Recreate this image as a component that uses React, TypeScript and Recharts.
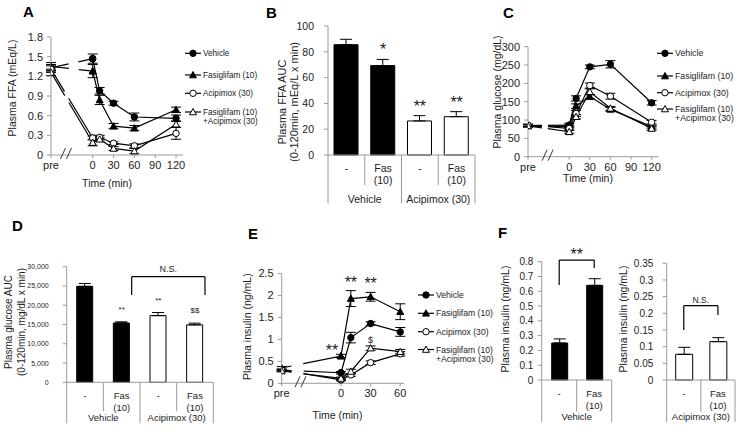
import React from "react";
import {
  LineChart,
  Line,
  BarChart,
  Bar,
  Cell,
  XAxis,
  YAxis,
  ErrorBar,
  Legend,
  Label,
  ReferenceLine,
  ReferenceDot,
} from "recharts";

const FONT = '"Liberation Sans", Arial, Helvetica, sans-serif';
const AXIS = "#9a9a9a";
const INK = "#1c1c1c";
const PRE = -60; // slot of the "pre" sample on the time axes

const SERIES = ["Vehicle", "Fasiglifam (10)", "Acipimox (30)", "Fasiglifam (10)\n+Acipimox (30)"];
const MARKERS = ["disc", "tri", "ring", "openTri"];

// A - plasma FFA (mEq/L)
const ffaTimes = [0, 10, 30, 60, 120];
const ffaPre = [1.33, 1.35, 1.31, 1.26];
const ffaPreErr = [0.05, 0.06, 0.05, 0.05];
const ffaVehicle = [1.47, 0.98, 0.79, 0.58, 0.56];
const ffaFas = [1.28, 0.84, 0.44, 0.41, 0.69];
const ffaAci = [0.26, 0.27, 0.18, 0.14, 0.33];
const ffaFasAci = [0.19, 0.24, 0.1, 0.06, 0.47];
const ffaVehicleErr = [0.07, 0.05, 0.03, 0.06, 0.05];
const ffaFasErr = [0.1, 0.07, 0.04, 0.04, 0.04];
const ffaAciErr = [0.03, 0.03, 0.02, 0.03, 0.09];
const ffaFasAciErr = [0.05, 0.03, 0.03, 0.04, 0.05];

// C - plasma glucose (mg/dL)
const glcTimes = [0, 10, 30, 60, 120];
const glcPre = [85, 84, 86, 84];
const glcPreErr = [3, 3, 3, 3];
const glcVehicle = [86, 159, 245, 252, 147];
const glcFas = [82, 138, 164, 129, 82];
const glcAci = [77, 118, 194, 165, 94];
const glcFasAci = [68, 109, 177, 132, 77];
const glcVehicleErr = [5, 7, 5, 10, 6];
const glcFasErr = [4, 6, 6, 5, 4];
const glcAciErr = [4, 8, 7, 8, 5];
const glcFasAciErr = [4, 6, 8, 5, 5];

// E - plasma insulin (ng/mL)
const insTimes = [0, 10, 30, 60];
const insPre = [0.3, 0.35, 0.3, 0.28];
const insPreErr = [0.02, 0.03, 0.02, 0.02];
const insVehicle = [0.24, 1.04, 1.36, 1.17];
const insFas = [0.62, 1.93, 1.97, 1.63];
const insAci = [0.08, 0.19, 0.47, 0.67];
const insFasAci = [0.11, 0.27, 0.8, 0.72];
const insVehicleErr = [0.03, 0.12, 0.04, 0.1];
const insFasErr = [0.04, 0.18, 0.1, 0.18];
const insAciErr = [0.02, 0.03, 0.04, 0.05];
const insFasAciErr = [0.03, 0.05, 0.05, 0.05];
const insMarks = [
  { s: 1, t: 0, text: "**" },
  { s: 1, t: 10, text: "**" },
  { s: 1, t: 30, text: "**" },
  { s: 3, t: 30, text: "$" },
];

// B, D - AUC bars
const aucKeys = ["veh", "vehFas", "aci", "aciFas"];
const aucTreat = ["-", "Fas (10)", "-", "Fas (10)"];
const aucGroups = ["Vehicle", "Vehicle", "Acipimox (30)", "Acipimox (30)"];
const ffaAuc = [85.5, 69.3, 26.4, 29.7];
const ffaAucErr = [4.2, 4.8, 4.1, 3.9];
const ffaAucSig = ["", "*", "**", "**"];
const glcAuc = [24900, 15400, 17300, 14900];
const glcAucErr = [750, 300, 800, 450];
const glcAucSig = ["", "**", "**", "$$"];

// F - plasma insulin bars
const insBarKeys = ["ctl", "fas"];
const insBarTreat = ["-", "Fas (10)"];
const insVehGroup = ["Vehicle", "Vehicle"];
const insAciGroup = ["Acipimox (30)", "Acipimox (30)"];
const insVehBars = [0.25, 0.64];
const insVehBarsErr = [0.028, 0.045];
const insAciBars = [0.077, 0.115];
const insAciBarsErr = [0.021, 0.012];

const fmtOne = (v: number) => (v === 0 ? "0" : v.toFixed(1));
const fmtPlain = (v: number) => String(v);
const fmtComma = (v: number) => v.toLocaleString("en-US");

const marker = (kind: string, cx: number, cy: number, key: string) => {
  if (cx == null || cy == null || Number.isNaN(cx) || Number.isNaN(cy)) return <g key={key} />;
  const open = kind === "ring" || kind === "openTri";
  const fill = open ? "#fff" : "#000";
  if (kind === "disc" || kind === "ring") {
    return <circle key={key} cx={cx} cy={cy} r={3.2} fill={fill} stroke="#000" strokeWidth={1} />;
  }
  const h = 3.5;
  return (
    <polygon
      key={key}
      points={`${cx},${cy - h} ${cx - h},${cy + h * 0.8} ${cx + h},${cy + h * 0.8}`}
      fill={fill}
      stroke="#000"
      strokeWidth={1}
    />
  );
};

const LegendBox = ({ rows, fs }: { rows: number[]; fs: number }) => (
  <svg width={84} height={90} style={{ display: "block", overflow: "visible" }}>
    {SERIES.map((name, i) => (
      <g key={name}>
        <line x1={1} x2={17} y1={rows[i]} y2={rows[i]} stroke="#000" strokeWidth={1.2} />
        {marker(MARKERS[i], 9, rows[i], `lg${i}`)}
        {name.split("\n").map((part, k) => (
          <text
            key={part}
            x={19}
            y={rows[i] + k * 9}
            dominantBaseline="central"
            fontSize={fs}
            fill={INK}
            fontFamily={FONT}
          >
            {part}
          </text>
        ))}
      </g>
    ))}
  </svg>
);

const breakMark = (sp: any) => (
  <g>
    <line x1={sp.cx - 6.5} y1={sp.cy + 4} x2={sp.cx - 1.5} y2={sp.cy - 7} stroke="#333" strokeWidth={1} />
    <line x1={sp.cx - 0.5} y1={sp.cy + 4} x2={sp.cx + 4.5} y2={sp.cy - 7} stroke="#333" strokeWidth={1} />
  </g>
);

type Box = { left: number; top: number; width: number; height: number };
type Margin = { top: number; right: number; bottom: number; left: number };

interface CourseProps {
  box: Box;
  margin: Margin;
  yWidth: number;
  xHeight: number;
  xDomain: number[];
  xTicks: number[];
  yDomain: number[];
  yTicks: number[];
  yFormat: (v: number) => string;
  tickFs: number;
  times: number[];
  pre: number[];
  preErr: number[];
  values: number[][];
  errs: number[][];
  dashes: number[][];
  breakAt: number;
  yTitle: string;
  yTitleAt: number[];
  timeAt: number[];
  legendAt: number[];
  legendRows: number[];
  legendFs: number;
  children?: React.ReactNode;
}

function TimeCourse(p: CourseProps) {
  const lead = p.values.map((vals, i) => [
    { t: PRE, v: p.pre[i], e: p.preErr[i] },
    { t: p.times[0], v: vals[0], e: 0 },
  ]);
  const main = p.values.map((vals, i) => p.times.map((t, j) => ({ t, v: vals[j], e: p.errs[i][j] })));
  return (
    <div style={{ position: "absolute", left: p.box.left, top: p.box.top }}>
      <LineChart width={p.box.width} height={p.box.height} margin={p.margin}>
        <XAxis
          type="number"
          dataKey="t"
          domain={p.xDomain}
          ticks={p.xTicks}
          interval={0}
          allowDataOverflow
          height={p.xHeight}
          stroke={AXIS}
          tickSize={3}
          tickMargin={3}
          tick={{ fontSize: p.tickFs, fill: INK }}
          tickFormatter={(v: number) => (v === PRE ? "pre" : String(v))}
        >
          <Label
            content={() => (
              <text x={p.timeAt[0]} y={p.timeAt[1]} textAnchor="middle" dominantBaseline="central" fontSize={10.5} fill={INK}>
                Time (min)
              </text>
            )}
          />
        </XAxis>
        <YAxis
          type="number"
          domain={p.yDomain}
          ticks={p.yTicks}
          interval={0}
          width={p.yWidth}
          stroke={AXIS}
          tickSize={4}
          tickMargin={4}
          tick={{ fontSize: p.tickFs, fill: INK }}
          tickFormatter={p.yFormat}
        >
          <Label
            content={() => (
              <text
                x={p.yTitleAt[0]}
                y={p.yTitleAt[1]}
                transform={`rotate(-90, ${p.yTitleAt[0]}, ${p.yTitleAt[1]})`}
                textAnchor="middle"
                dominantBaseline="central"
                fontSize={10.5}
                fill={INK}
              >
                {p.yTitle}
              </text>
            )}
          />
        </YAxis>
        <Legend
          layout="vertical"
          align="center"
          verticalAlign="middle"
          wrapperStyle={{ left: p.legendAt[0], top: p.legendAt[1], width: 70, height: 90 }}
          content={() => <LegendBox rows={p.legendRows} fs={p.legendFs} />}
        />
        <ReferenceDot x={p.breakAt} y={p.yDomain[0]} r={0} ifOverflow="visible" shape={breakMark} />
        {lead.map((rows, i) => (
          <Line
            key={`lead${i}`}
            data={rows}
            dataKey="v"
            type="linear"
            stroke="#000"
            strokeWidth={1.2}
            strokeDasharray={`${p.dashes[i][0]} ${p.dashes[i][1]} 400`}
            dot={(dp: any) => marker(MARKERS[i], dp.cx, dp.cy, `p${i}-${dp.index}`)}
            activeDot={false}
            legendType="none"
            isAnimationActive={false}
          >
            <ErrorBar dataKey="e" width={5} stroke="#000" strokeWidth={1} direction="y" isAnimationActive={false} />
          </Line>
        ))}
        {main.map((rows, i) => (
          <Line
            key={`main${i}`}
            data={rows}
            dataKey="v"
            type="linear"
            stroke="#000"
            strokeWidth={1.2}
            dot={(dp: any) => marker(MARKERS[i], dp.cx, dp.cy, `m${i}-${dp.index}`)}
            activeDot={false}
            legendType="none"
            isAnimationActive={false}
          >
            <ErrorBar dataKey="e" width={5} stroke="#000" strokeWidth={1} direction="y" isAnimationActive={false} />
          </Line>
        ))}
        {p.children}
      </LineChart>
    </div>
  );
}

interface TableCfg {
  slot: number;
  fs: number;
  rows: number[];
  groupY: number;
  shortLen: number;
  longLen: number;
}

interface Bracket {
  from: string;
  to: string;
  top: number;
  leftEnd: number;
  rightEnd: number;
  text: string;
  fs: number;
  gap: number;
  shift: number;
}

interface BarsProps {
  box: Box;
  margin: Margin;
  yWidth: number;
  xHeight: number;
  yDomain: number[];
  yTicks: number[];
  yFormat: (v: number) => string;
  tickFs: number;
  tickGap: number;
  keys: string[];
  treat: string[];
  groups: string[];
  values: number[];
  errs: number[];
  barSize: number;
  table: TableCfg;
  yTitle: string[];
  yTitleX: number[];
  yTitleY: number;
  titleFs: number;
  sig?: string[];
  sigFs?: number;
  sigDy?: number;
  bracket?: Bracket;
}

const makeTableTick = (p: BarsProps) => (tp: any) => {
  const { x, y, payload } = tp;
  const i = p.keys.indexOf(payload.value);
  if (i < 0) return <g />;
  const { slot, fs, rows, groupY, shortLen, longLen } = p.table;
  const g = p.groups;
  const isLast = i === g.length - 1 || g[i + 1] !== g[i];
  const isFirst = i === 0 || g[i - 1] !== g[i];
  let span = 1;
  while (i + span < g.length && g[i + span] === g[i]) span++;
  return (
    <g>
      {i === 0 && <line x1={x - slot / 2} x2={x - slot / 2} y1={y} y2={y + longLen} stroke={AXIS} />}
      <line x1={x + slot / 2} x2={x + slot / 2} y1={y} y2={y + (isLast ? longLen : shortLen)} stroke={AXIS} />
      {p.treat[i].split(" ").map((s, k) => (
        <text key={k} x={x} y={y + rows[k]} textAnchor="middle" dominantBaseline="central" fontSize={fs} fill={INK}>
          {s}
        </text>
      ))}
      {isFirst && (
        <text
          x={x + ((span - 1) * slot) / 2}
          y={y + groupY}
          textAnchor="middle"
          dominantBaseline="central"
          fontSize={fs}
          fill={INK}
        >
          {g[i]}
        </text>
      )}
    </g>
  );
};

function AucBars(p: BarsProps) {
  const rows = p.keys.map((k, i) => ({ k, v: p.values[i], eb: [0, p.errs[i]] }));
  const br = p.bracket;
  const seg = (sp: any, withText: boolean) => (
    <g>
      <line x1={sp.x1 + br!.shift} y1={sp.y1} x2={sp.x2 + br!.shift} y2={sp.y2} stroke="#000" strokeWidth={1.2} />
      {withText && (
        <text
          x={(sp.x1 + sp.x2) / 2 + br!.shift}
          y={Math.min(sp.y1, sp.y2) - br!.gap}
          textAnchor="middle"
          fontSize={br!.fs}
          fill={INK}
        >
          {br!.text}
        </text>
      )}
    </g>
  );
  return (
    <div style={{ position: "absolute", left: p.box.left, top: p.box.top }}>
      <BarChart width={p.box.width} height={p.box.height} margin={p.margin} data={rows} barCategoryGap={0}>
        <XAxis
          dataKey="k"
          type="category"
          height={p.xHeight}
          stroke={AXIS}
          tickLine={false}
          tickSize={0}
          tickMargin={0}
          interval={0}
          tick={makeTableTick(p)}
        />
        <YAxis
          type="number"
          domain={p.yDomain}
          ticks={p.yTicks}
          interval={0}
          width={p.yWidth}
          stroke={AXIS}
          tickSize={4}
          tickMargin={p.tickGap - 4}
          tick={{ fontSize: p.tickFs, fill: INK }}
          tickFormatter={p.yFormat}
        >
          <Label
            content={() => (
              <g>
                {p.yTitle.map((line, k) => (
                  <text
                    key={line}
                    x={p.yTitleX[k]}
                    y={p.yTitleY}
                    transform={`rotate(-90, ${p.yTitleX[k]}, ${p.yTitleY})`}
                    textAnchor="middle"
                    dominantBaseline="central"
                    fontSize={p.titleFs}
                    fill={INK}
                  >
                    {line}
                  </text>
                ))}
              </g>
            )}
          />
        </YAxis>
        <Bar dataKey="v" barSize={p.barSize} stroke="#000" strokeWidth={1} isAnimationActive={false}>
          {rows.map((r, i) => (
            <Cell key={r.k} fill={p.groups[i] === "Vehicle" ? "#000" : "#fff"} />
          ))}
          <ErrorBar dataKey="eb" width={6} stroke="#000" strokeWidth={1} direction="y" isAnimationActive={false} />
        </Bar>
        {p.sig &&
          p.sig.map((s, i) =>
            s ? (
              <ReferenceDot
                key={`sig${i}`}
                x={p.keys[i]}
                y={p.values[i] + p.errs[i]}
                r={0}
                ifOverflow="visible"
                shape={(sp: any) => (
                  <text x={sp.cx} y={sp.cy + (p.sigDy ?? -5)} textAnchor="middle" fontSize={p.sigFs} fill={INK}>
                    {s}
                  </text>
                )}
              />
            ) : null
          )}
        {br && (
          <ReferenceLine
            segment={[
              { x: br.from, y: br.leftEnd },
              { x: br.from, y: br.top },
            ]}
            ifOverflow="visible"
            shape={(sp: any) => seg(sp, false)}
          />
        )}
        {br && (
          <ReferenceLine
            segment={[
              { x: br.from, y: br.top },
              { x: br.to, y: br.top },
            ]}
            ifOverflow="visible"
            shape={(sp: any) => seg(sp, true)}
          />
        )}
        {br && (
          <ReferenceLine
            segment={[
              { x: br.to, y: br.top },
              { x: br.to, y: br.rightEnd },
            ]}
            ifOverflow="visible"
            shape={(sp: any) => seg(sp, false)}
          />
        )}
      </BarChart>
    </div>
  );
}

const LETTERS: [string, number, number][] = [
  ["A", 23, 4],
  ["B", 266, 5],
  ["C", 503, 5],
  ["D", 12, 218],
  ["E", 248, 226],
  ["F", 498, 225],
];

const insValues = [insVehicle, insFas, insAci, insFasAci];
const insErrs = [insVehicleErr, insFasErr, insAciErr, insFasAciErr];

export default function App() {
  return (
    <div
      style={{
        position: "absolute",
        left: 0,
        top: 0,
        width: 740,
        height: 435,
        background: "#fff",
        fontFamily: FONT,
        overflow: "hidden",
      }}
    >
      {LETTERS.map(([t, x, y]) => (
        <div
          key={t}
          style={{ position: "absolute", left: x, top: y, fontSize: 15, lineHeight: "15px", fontWeight: "bold", color: "#000" }}
        >
          {t}
        </div>
      ))}

      <TimeCourse
        box={{ left: 0, top: 0, width: 255, height: 200 }}
        margin={{ top: 37, right: 72, bottom: 15, left: 0 }}
        yWidth={51}
        xHeight={30}
        xDomain={[-60, 130]}
        xTicks={[-60, 0, 30, 60, 90, 120]}
        yDomain={[0, 1.8]}
        yTicks={[0, 0.3, 0.6, 0.9, 1.2, 1.5, 1.8]}
        yFormat={fmtOne}
        tickFs={11}
        times={ffaTimes}
        pre={ffaPre}
        preErr={ffaPreErr}
        values={[ffaVehicle, ffaFas, ffaAci, ffaFasAci]}
        errs={[ffaVehicleErr, ffaFasErr, ffaAciErr, ffaFasAciErr]}
        dashes={[[18, 10], [18, 10], [26, 8], [27, 8]]}
        breakAt={-37}
        yTitle="Plasma FFA (mEq/L)"
        yTitleAt={[12, 88]}
        timeAt={[107, 183]}
        legendAt={[184, 45]}
        legendRows={[8.3, 30, 48.3, 67]}
        legendFs={8.2}
      />

      <AucBars
        box={{ left: 250, top: 10, width: 235, height: 205 }}
        margin={{ top: 16, right: 10, bottom: 5, left: 0 }}
        yWidth={78}
        xHeight={55}
        yDomain={[0, 100]}
        yTicks={[0, 20, 40, 60, 80, 100]}
        yFormat={fmtPlain}
        tickFs={10.5}
        tickGap={14}
        keys={aucKeys}
        treat={aucTreat}
        groups={aucGroups}
        values={ffaAuc}
        errs={ffaAucErr}
        barSize={24}
        table={{ slot: 36.75, fs: 10.5, rows: [13.3, 25], groupY: 44.3, shortLen: 30, longLen: 48.3 }}
        yTitle={["Plasma FFA AUC", "(0-120min, mEq/L x min)"]}
        yTitleX={[32, 44]}
        yTitleY={92}
        titleFs={11}
        sig={ffaAucSig}
        sigFs={16}
        sigDy={-4}
      />

      <TimeCourse
        box={{ left: 490, top: 0, width: 250, height: 200 }}
        margin={{ top: 46.7, right: 81.5, bottom: 13.3, left: 0 }}
        yWidth={38}
        xHeight={30}
        xDomain={[-60, 130]}
        xTicks={[-60, 0, 30, 60, 90, 120]}
        yDomain={[0, 300]}
        yTicks={[0, 50, 100, 150, 200, 250, 300]}
        yFormat={fmtPlain}
        tickFs={11}
        times={glcTimes}
        pre={glcPre}
        preErr={glcPreErr}
        values={[glcVehicle, glcFas, glcAci, glcFasAci]}
        errs={[glcVehicleErr, glcFasErr, glcAciErr, glcFasAciErr]}
        dashes={[[14, 6], [14, 6], [14, 6], [14, 6]]}
        breakAt={-30}
        yTitle="Plasma glucose (mg/dL)"
        yTitleAt={[7, 92]}
        timeAt={[98, 178]}
        legendAt={[166, 45]}
        legendRows={[8.3, 31, 47.7, 64]}
        legendFs={8.8}
      />

      <AucBars
        box={{ left: 0, top: 225, width: 225, height: 210 }}
        margin={{ top: 41.7, right: 11.7, bottom: 7.7, left: 0 }}
        yWidth={66.7}
        xHeight={45}
        yDomain={[0, 30000]}
        yTicks={[0, 5000, 10000, 15000, 20000, 25000, 30000]}
        yFormat={fmtComma}
        tickFs={7}
        tickGap={18}
        keys={aucKeys}
        treat={aucTreat}
        groups={aucGroups}
        values={glcAuc}
        errs={glcAucErr}
        barSize={16}
        table={{ slot: 36.65, fs: 9.5, rows: [13.5, 25.5], groupY: 35, shortLen: 29, longLen: 41 }}
        yTitle={["Plasma glucose AUC", "(0-120min, mg/dL x min)"]}
        yTitleX={[8.3, 21.7]}
        yTitleY={97}
        titleFs={10}
        sig={glcAucSig}
        sigFs={8}
        sigDy={-10}
        bracket={{ from: "vehFas", to: "aciFas", top: 27400, leftEnd: 22660, rightEnd: 22660, text: "N.S.", fs: 9, gap: 5, shift: 10 }}
      />

      <TimeCourse
        box={{ left: 240, top: 225, width: 255, height: 210 }}
        margin={{ top: 48.5, right: 90.8, bottom: 21.7, left: 0 }}
        yWidth={41.7}
        xHeight={30}
        xDomain={[-60, 64]}
        xTicks={[-60, 0, 30, 60]}
        yDomain={[0, 2.5]}
        yTicks={[0, 0.5, 1, 1.5, 2, 2.5]}
        yFormat={fmtPlain}
        tickFs={11}
        times={insTimes}
        pre={insPre}
        preErr={insPreErr}
        values={insValues}
        errs={insErrs}
        dashes={[[10, 12], [10, 12], [10, 12], [10, 12]]}
        breakAt={-40}
        yTitle="Plasma insulin (ng/mL)"
        yTitleAt={[6.7, 101.7]}
        timeAt={[97.5, 190]}
        legendAt={[177, 62]}
        legendRows={[8, 26.3, 44.7, 62.5]}
        legendFs={8.6}
      >
        {insMarks.map((m) => {
          const j = insTimes.indexOf(m.t);
          const star = m.text !== "$";
          return (
            <ReferenceDot
              key={`${m.s}-${m.t}`}
              x={m.t}
              y={insValues[m.s][j] + insErrs[m.s][j]}
              r={0}
              ifOverflow="visible"
              shape={(sp: any) => (
                <text
                  x={sp.cx + (m.t === 0 ? -9 : 0)}
                  y={sp.cy + (m.t === 0 ? 2 : -3)}
                  textAnchor="middle"
                  fontSize={star ? 16 : 9}
                  fill={INK}
                >
                  {m.text}
                </text>
              )}
            />
          );
        })}
      </TimeCourse>

      <AucBars
        box={{ left: 495, top: 225, width: 125, height: 210 }}
        margin={{ top: 36.7, right: 8.3, bottom: 10, left: 0 }}
        yWidth={46.7}
        xHeight={45}
        yDomain={[0, 0.8]}
        yTicks={[0, 0.1, 0.2, 0.3, 0.4, 0.5, 0.6, 0.7, 0.8]}
        yFormat={fmtPlain}
        tickFs={10}
        tickGap={8.4}
        keys={insBarKeys}
        treat={insBarTreat}
        groups={insVehGroup}
        values={insVehBars}
        errs={insVehBarsErr}
        barSize={16}
        table={{ slot: 35, fs: 9.5, rows: [13, 25], groupY: 36.7, shortLen: 31.7, longLen: 42 }}
        yTitle={["Plasma insulin  (ng/mL)"]}
        yTitleX={[10]}
        yTitleY={94}
        titleFs={10.5}
        bracket={{ from: "ctl", to: "fas", top: 0.811, leftEnd: 0.642, rightEnd: 0.757, text: "**", fs: 16, gap: 0, shift: 0 }}
      />

      <AucBars
        box={{ left: 612, top: 225, width: 128, height: 210 }}
        margin={{ top: 38.3, right: 5, bottom: 10, left: 0 }}
        yWidth={54.7}
        xHeight={45}
        yDomain={[0, 0.35]}
        yTicks={[0, 0.05, 0.1, 0.15, 0.2, 0.25, 0.3, 0.35]}
        yFormat={fmtPlain}
        tickFs={10}
        tickGap={13.4}
        keys={insBarKeys}
        treat={insBarTreat}
        groups={insAciGroup}
        values={insAciBars}
        errs={insAciBarsErr}
        barSize={17}
        table={{ slot: 34.15, fs: 9.5, rows: [13, 25], groupY: 36.7, shortLen: 31.7, longLen: 42 }}
        yTitle={["Plasma insulin  (ng/mL)"]}
        yTitleX={[11.3]}
        yTitleY={94}
        titleFs={10.5}
        bracket={{ from: "ctl", to: "fas", top: 0.223, leftEnd: 0.15, rightEnd: 0.195, text: "N.S.", fs: 8.5, gap: 3, shift: 0 }}
      />
    </div>
  );
}
